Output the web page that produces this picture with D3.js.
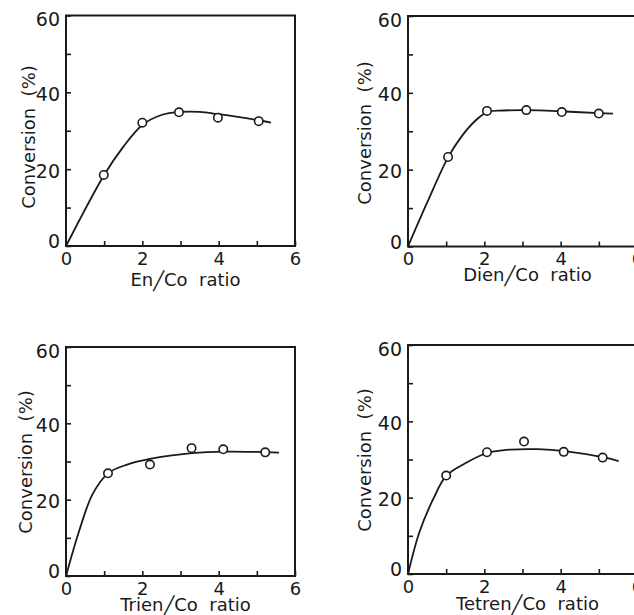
<!DOCTYPE html>
<html>
<head>
<meta charset="utf-8">
<script src="https://cdn.jsdelivr.net/npm/d3@7/dist/d3.min.js"></script>
<style>
  body { margin: 0; background: #fff; }
  svg { display: block; }
  .axis text { font-family: "DejaVu Sans", sans-serif; fill: #1a1a1a; }
  .axis line { stroke: #1a1a1a; stroke-width: 1.6px; }
  .lbl { font-family: "DejaVu Sans", sans-serif; fill: #1a1a1a; white-space: pre; }
</style>
</head>
<body>
<svg width="634" height="615"></svg>
<script>
// ligand names, one panel each
var ligands = ['En', 'Dien', 'Trien', 'Tetren'];

// measured points [ratio, conversion %]
var enPoints = [[0.99, 18.5], [2.0, 32.1], [2.96, 34.8], [3.98, 33.4], [5.05, 32.5]];
var dienPoints = [[1.05, 23.3], [2.07, 35.3], [3.1, 35.5], [4.03, 35.0], [5.0, 34.6]];
var trienPoints = [[1.1, 26.9], [2.2, 29.2], [3.29, 33.5], [4.12, 33.2], [5.22, 32.4]];
var tetrenPoints = [[1.0, 25.8], [2.07, 31.9], [3.04, 34.7], [4.08, 32.0], [5.1, 30.5]];

// hand drawn smooth curves
var enCurve = [[0, 0], [1, 18.5], [1.5, 25.8], [2, 31.5], [2.5, 34.1], [3, 34.9], [3.5, 34.9], [4, 34.3], [4.5, 33.6], [5, 32.8], [5.37, 32.1]];
var dienCurve = [[0, 0], [0.5, 11.4], [1.05, 23.2], [1.4, 28.6], [1.75, 32.6], [2.07, 35.0], [2.5, 35.4], [3.1, 35.5], [4, 35.2], [5, 34.7], [5.37, 34.6]];
var trienCurve = [[0, 0], [0.35, 12], [0.7, 21.5], [1.1, 26.9], [1.6, 29.2], [2.2, 30.7], [3.3, 32.2], [4.2, 32.6], [5, 32.5], [5.58, 32.3]];
var tetrenCurve = [[0, 0], [0.3, 11], [0.65, 19.4], [1.0, 25.7], [1.5, 29.0], [2.07, 31.7], [2.7, 32.6], [3.4, 32.7], [4.1, 32.2], [5.1, 30.6], [5.52, 29.6]];

// axis ticks
var xTicks = [0, 1, 2, 3, 4, 5, 6];
var yTicks = [0, 10, 20, 30, 40, 50, 60];

var svg = d3.select('svg');

var panels = [
    {name: ligands[0], pts: enPoints, curve: enCurve, box: {l: 66, r: 295, t: 15.5, b: 246}, yl: [28, 137], xlb: 286},
    {name: ligands[1], pts: dienPoints, curve: dienCurve, box: {l: 408, r: 637, t: 16, b: 246.5}, yl: [364, 133], xlb: 281},
    {name: ligands[2], pts: trienPoints, curve: trienCurve, box: {l: 66, r: 295, t: 347, b: 576}, yl: [25, 462], xlb: 611},
    {name: ligands[3], pts: tetrenPoints, curve: tetrenCurve, box: {l: 408, r: 637, t: 345, b: 574}, yl: [364, 460], xlb: 610}
];

panels.forEach(function(p) {
    var b = p.box;
    var x = d3.scaleLinear().domain([0, 6]).range([b.l, b.r]);
    var y = d3.scaleLinear().domain([0, 60]).range([b.b, b.t]);

    var xAx = svg.append('g')
        .attr('class', 'axis')
        .attr('transform', 'translate(0,' + b.b + ')')
        .call(d3.axisBottom(x).tickValues(xTicks).tickSizeInner(-5).tickSizeOuter(0).tickPadding(6)
            .tickFormat(function(d) { return d % 2 == 0 ? d : ''; }));
    xAx.select('.domain').remove();
    xAx.selectAll('text').style('font-size', '18px');

    var yAx = svg.append('g')
        .attr('class', 'axis')
        .attr('transform', 'translate(' + b.l + ',0)')
        .call(d3.axisLeft(y).tickValues(yTicks).tickSizeInner(-5).tickSizeOuter(0).tickPadding(6)
            .tickFormat(function(d) { return d % 20 == 0 ? d : ''; }));
    yAx.select('.domain').remove();
    yAx.selectAll('text')
        .style('font-size', '19px')
        .attr('dy', function(d) {
            if (d == 60) return '0.55em';
            if (d == 0) return '0.1em';
            return '0.42em';
        });

    // frame
    svg.append('rect')
        .attr('x', b.l).attr('y', b.t)
        .attr('width', b.r - b.l).attr('height', b.b - b.t)
        .style('fill', 'none')
        .style('stroke', '#1a1a1a')
        .style('stroke-width', 2);

    var line = d3.line()
        .x(function(d) { return x(d[0]); })
        .y(function(d) { return y(d[1]); })
        .curve(d3.curveCatmullRom.alpha(0.5));

    svg.append('path')
        .datum(p.curve)
        .attr('d', line)
        .style('fill', 'none')
        .style('stroke', '#1a1a1a')
        .style('stroke-width', 1.8);

    svg.selectAll(null)
        .data(p.pts)
        .enter()
        .append('circle')
        .attr('cx', function(d) { return x(d[0]); })
        .attr('cy', function(d) { return y(d[1]); })
        .attr('r', 4.2)
        .style('fill', '#fff')
        .style('stroke', '#1a1a1a')
        .style('stroke-width', 1.6);

    // axis titles
    svg.append('text')
        .attr('class', 'lbl')
        .attr('transform', 'translate(' + p.yl[0] + ',' + p.yl[1] + ') rotate(-90)')
        .attr('text-anchor', 'middle')
        .attr('dominant-baseline', 'central')
        .style('font-size', '18px')
        .text('Conversion  (%)');

    var xt = svg.append('text')
        .attr('class', 'lbl')
        .attr('x', (b.l + b.r) / 2 + 5)
        .attr('y', p.xlb)
        .attr('text-anchor', 'middle')
        .style('font-size', '18px');
    xt.append('tspan').text(p.name);
    xt.append('tspan').attr('dy', 1).text('\u2571');
    xt.append('tspan').attr('dy', -1).text('Co  ratio');
});
</script>
</body>
</html>
